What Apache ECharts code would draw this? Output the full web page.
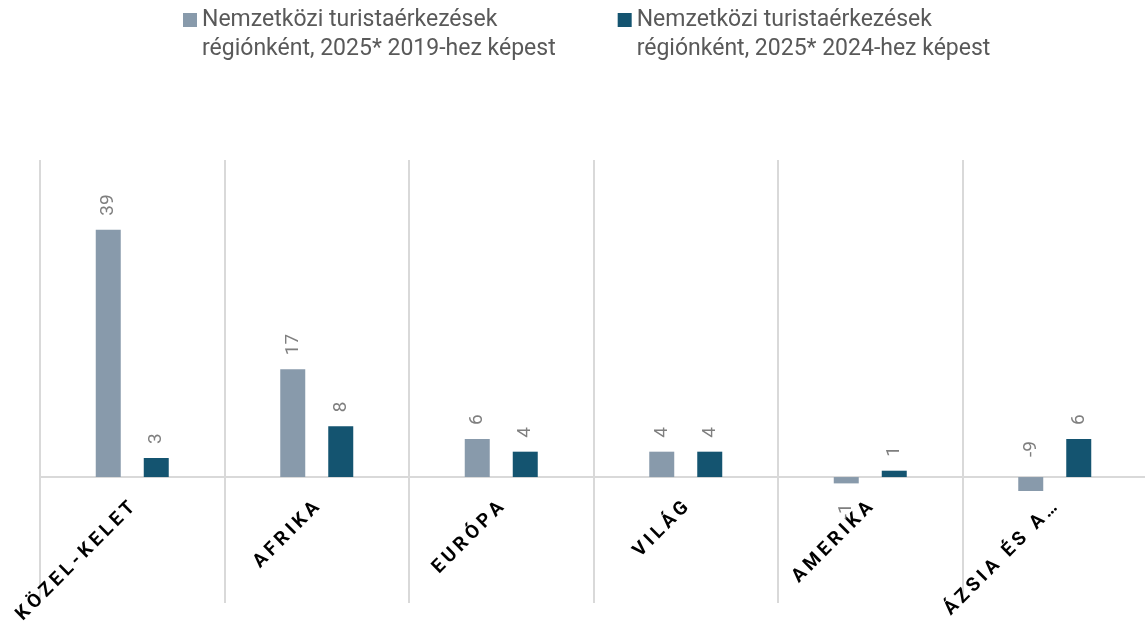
<!DOCTYPE html>
<html>
<head>
<meta charset="utf-8">
<script src="https://cdn.jsdelivr.net/npm/echarts@6/dist/echarts.min.js"></script>
<style>
html,body{margin:0;padding:0;background:#fff;}
#chart{width:1145px;height:621px;}
</style>
</head>
<body>
<div id="chart"></div>
<script>
const categories = ['KÖZEL-KELET', 'AFRIKA', 'EURÓPA', 'VILÁG', 'AMERIKA', 'ÁZSIA ÉS A…'];
const seriesNames = ['Nemzetközi turistaérkezések\nrégiónként, 2025* 2019-hez képest',
                     'Nemzetközi turistaérkezések\nrégiónként, 2025* 2024-hez képest'];
const vs2019 = [39, 17, 6, 4, -1, -9];
const vs2024 = [3, 8, 4, 4, 1, 6];

const C1 = '#889AAB', C2 = '#145470';
const FONT = 'Roboto, "Noto Sans", sans-serif';

function spaced(s) { return s.split('').join('\u2009'); }

function mkData(arr) {
  return arr.map((v, i) => {
    if (v >= 0) return v;
    if (i === 4) return { value: v, label: { position: 'bottom', align: 'right', distance: 20 } };
    return { value: v, label: { position: 'top', distance: 20 } };
  });
}

const chart = echarts.init(document.getElementById('chart'));
chart.setOption({
  animation: false,
  legend: {
    top: 1, left: 178, itemGap: 62,
    itemWidth: 14, itemHeight: 44,
    icon: 'path://M0,0H14V14H0Z M0,44L0.001,44',
    textStyle: { color: '#595959', fontSize: 23, lineHeight: 29, fontFamily: FONT },
    data: seriesNames
  },
  grid: [
    { left: 40, right: -2, top: 160, bottom: 130, outerBoundsMode: 'none', containLabel: false },
    { left: 40, right: -2, top: 160, bottom: 18, outerBoundsMode: 'none', containLabel: false }
  ],
  xAxis: [
    {
      type: 'category', gridIndex: 0, data: categories,
      axisLine: { show: true, onZero: true, lineStyle: { color: '#d9d9d9', width: 2 } },
      axisTick: { show: false },
      axisLabel: {
        interval: 0, rotate: 45, margin: 14, hideOverlap: false,
        color: '#000', fontWeight: 'bold', fontSize: 19, fontFamily: FONT,
        formatter: v => spaced(v)
      },
      splitLine: { show: false }
    },
    {
      type: 'category', gridIndex: 1, data: categories,
      axisLine: { show: false }, axisTick: { show: false }, axisLabel: { show: false },
      splitLine: { show: true, interval: 0, lineStyle: { color: '#d9d9d9', width: 2 } }
    }
  ],
  yAxis: [
    { type: 'value', gridIndex: 0, min: -2.2, max: 50, show: false, splitLine: { show: false } },
    { type: 'value', gridIndex: 1, min: 0, max: 1, show: false, splitLine: { show: false } }
  ],
  series: [
    {
      name: seriesNames[0], type: 'bar', xAxisIndex: 0, yAxisIndex: 0,
      data: mkData(vs2019), barWidth: 25, barGap: '92%',
      itemStyle: { color: C1 },
      label: { show: true, position: 'top', rotate: 90, align: 'left', verticalAlign: 'middle',
               distance: 14, color: '#7f7f7f', fontSize: 19, fontFamily: FONT }
    },
    {
      name: seriesNames[1], type: 'bar', xAxisIndex: 0, yAxisIndex: 0,
      data: mkData(vs2024), barWidth: 25, barGap: '92%',
      itemStyle: { color: C2 },
      label: { show: true, position: 'top', rotate: 90, align: 'left', verticalAlign: 'middle',
               distance: 14, color: '#7f7f7f', fontSize: 19, fontFamily: FONT }
    }
  ]
});
</script>
</body>
</html>
